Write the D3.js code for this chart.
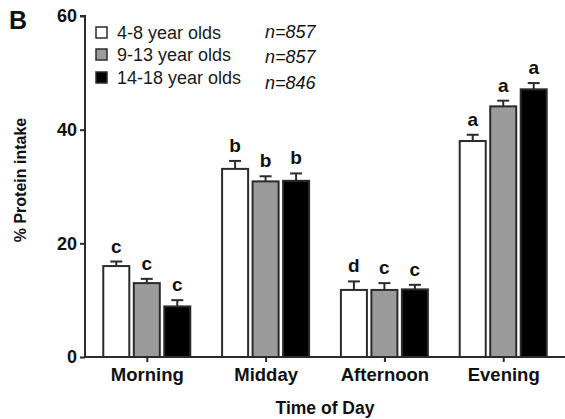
<!DOCTYPE html>
<html>
<head>
<meta charset="utf-8">
<script src="https://cdn.jsdelivr.net/npm/d3@7"></script>
<style>
  body { margin: 0; background: #fff; }
  text { font-family: "Liberation Sans", Arial, sans-serif; }
</style>
</head>
<body>
<div id="chart"></div>
<script>
// categories and series
const times = ['Morning', 'Midday', 'Afternoon', 'Evening'];
const groups = ['4-8 year olds', '9-13 year olds', '14-18 year olds'];
const sampleSizes = ['n=857', 'n=857', 'n=846'];

// mean % protein intake per time of day, one array per age group
const age4to8 = [16, 33.1, 11.8, 38];
const age9to13 = [13, 30.9, 11.8, 44.1];
const age14to18 = [8.9, 31, 11.9, 47.1];

// top of error bar (mean + SEM)
const err4to8 = [16.8, 34.5, 13.3, 39.1];
const err9to13 = [13.75, 31.8, 13, 45.1];
const err14to18 = [10, 32.3, 12.7, 48.2];

// significance letters
const letters4to8 = ['c', 'b', 'd', 'a'];
const letters9to13 = ['c', 'b', 'c', 'a'];
const letters14to18 = ['c', 'b', 'c', 'a'];

const yTicks = [0, 20, 40, 60];
const fills = ['#ffffff', '#9b9b9b', '#000000'];

const width = 565;
const height = 419;
const margin = { top: 16, right: 0, bottom: 62, left: 85 };

const series = [
  { values: age4to8, errs: err4to8, letters: letters4to8 },
  { values: age9to13, errs: err9to13, letters: letters9to13 },
  { values: age14to18, errs: err14to18, letters: letters14to18 }
];

const svg = d3.select('#chart')
  .append('svg')
  .attr('width', width)
  .attr('height', height);

// scales
const x0 = d3.scalePoint()
  .domain(times)
  .range([margin.left, width - margin.right])
  .padding(0.52);

const x1 = d3.scaleBand()
  .domain(groups)
  .range([-43.5, 43.5])
  .paddingInner(0.147);

const y = d3.scaleLinear()
  .domain([0, 60])
  .range([height - margin.bottom, margin.top]);

const ink = '#2b2b2b';
const font = '"Liberation Sans", Arial, sans-serif';

// bars, error bars and letters
series.forEach((s, gi) => {
  const g = groups[gi];
  const rows = times.map((t, i) => ({ t, v: s.values[i], e: s.errs[i], l: s.letters[i] }));
  const cx = d => x0(d.t) + x1(g) + x1.bandwidth() / 2;

  svg.append('g').selectAll('line.err')
    .data(rows).join('line')
    .attr('x1', cx).attr('x2', cx)
    .attr('y1', d => y(d.v)).attr('y2', d => y(d.e))
    .attr('stroke', ink).attr('stroke-width', 2);

  svg.append('g').selectAll('line.cap')
    .data(rows).join('line')
    .attr('x1', d => cx(d) - 6).attr('x2', d => cx(d) + 6)
    .attr('y1', d => y(d.e)).attr('y2', d => y(d.e))
    .attr('stroke', ink).attr('stroke-width', 2);

  svg.append('g').selectAll('rect')
    .data(rows).join('rect')
    .attr('x', d => x0(d.t) + x1(g))
    .attr('y', d => y(d.v))
    .attr('width', x1.bandwidth())
    .attr('height', d => y(0) - y(d.v))
    .attr('fill', fills[gi])
    .attr('stroke', ink)
    .attr('stroke-width', 2);

  svg.append('g').selectAll('text')
    .data(rows).join('text')
    .attr('x', cx)
    .attr('y', d => y(d.e) - 9)
    .attr('text-anchor', 'middle')
    .attr('font-size', 19)
    .attr('font-weight', 'bold')
    .attr('fill', '#111')
    .text(d => d.l);
});

// y axis
const yAxis = svg.append('g')
  .attr('transform', `translate(${margin.left},0)`)
  .call(d3.axisLeft(y).tickValues(yTicks).tickSize(5).tickPadding(3));
yAxis.select('.domain').attr('stroke', ink).attr('stroke-width', 2)
  .attr('d', `M-5,${y(60)}H0V${y(0)}`);
yAxis.selectAll('.tick line').attr('stroke', ink).attr('stroke-width', 2);
yAxis.selectAll('.tick text')
  .attr('font-size', 18).attr('font-weight', 'bold').attr('fill', '#111')
  .attr('font-family', font);

// x axis
const xAxis = svg.append('g')
  .attr('transform', `translate(0,${y(0)})`)
  .call(d3.axisBottom(x0).tickSize(5).tickPadding(6));
xAxis.select('.domain').attr('stroke', ink).attr('stroke-width', 2)
  .attr('d', `M${margin.left},0H${width}`);
xAxis.selectAll('.tick line').attr('stroke', ink).attr('stroke-width', 2);
xAxis.selectAll('.tick text')
  .attr('font-size', 18.5).attr('font-weight', 'bold').attr('fill', '#111')
  .attr('font-family', font);

// axis titles
svg.append('text')
  .attr('x', 325).attr('y', 414)
  .attr('text-anchor', 'middle')
  .attr('font-size', 17.5).attr('font-weight', 'bold').attr('fill', '#111')
  .text('Time of Day');

svg.append('text')
  .attr('transform', `translate(26,180) rotate(-90)`)
  .attr('text-anchor', 'middle')
  .attr('font-size', 16).attr('font-weight', 'bold').attr('fill', '#111')
  .text('% Protein intake');

// panel letter
svg.append('text')
  .attr('x', 9).attr('y', 29)
  .attr('font-size', 25).attr('font-weight', 'bold').attr('fill', '#111')
  .text('B');

// legend
const legendY = [33, 55, 78];
const nY = [38, 63, 89];
const legend = svg.append('g');
groups.forEach((g, i) => {
  legend.append('rect')
    .attr('x', 96).attr('y', legendY[i] - 6)
    .attr('width', 11).attr('height', 11)
    .attr('fill', fills[i]).attr('stroke', ink).attr('stroke-width', 1.5);
  legend.append('text')
    .attr('x', 117).attr('y', legendY[i] + 6)
    .attr('font-size', 18).attr('fill', '#1a1a1a')
    .text(g);
  legend.append('text')
    .attr('x', 265).attr('y', nY[i])
    .attr('font-size', 18).attr('font-style', 'italic').attr('fill', '#111')
    .text(sampleSizes[i]);
});
</script>
</body>
</html>
